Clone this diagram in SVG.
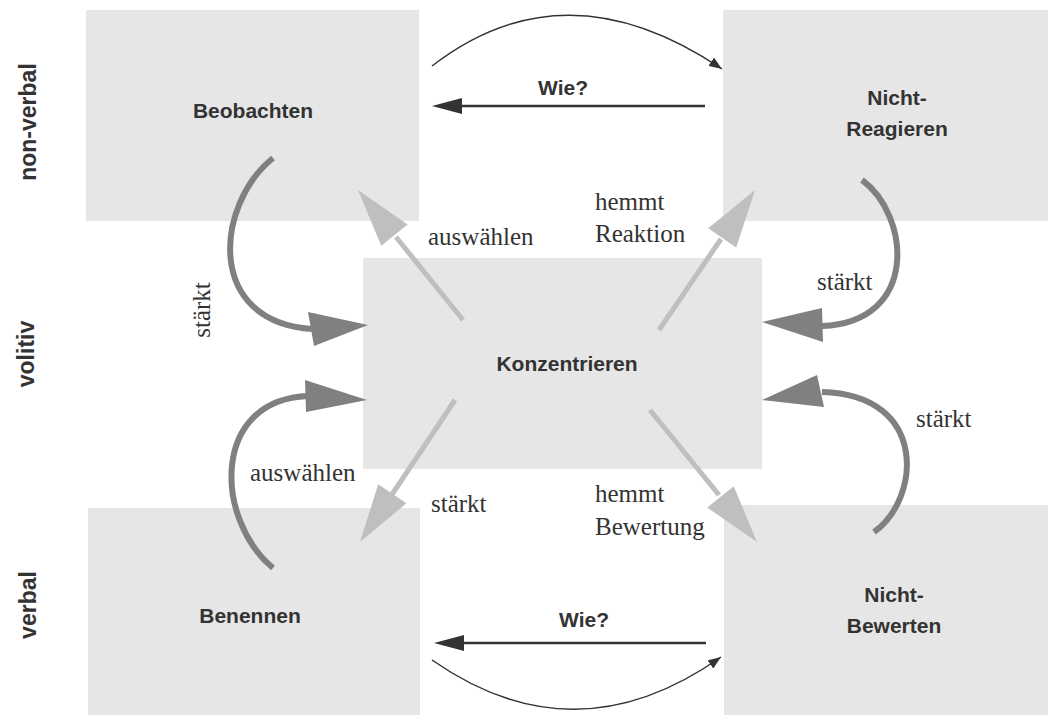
<svg xmlns="http://www.w3.org/2000/svg" width="1048" height="715" viewBox="0 0 1048 715">
  <style>
    .box { fill: #e6e6e6; }
    .lbl { font-family: "Liberation Sans", Arial, sans-serif; font-weight: bold; font-size: 21px; fill: #333; text-anchor: middle; }
    .side { font-family: "Liberation Sans", Arial, sans-serif; font-weight: bold; font-size: 23px; fill: #333; text-anchor: middle; }
    .ser { font-family: "Liberation Serif", "Times New Roman", serif; font-size: 25px; fill: #333; }
    .thin { fill: none; stroke: #333; stroke-width: 1.5; }
    .wie { fill: none; stroke: #333; stroke-width: 2.5; }
    .dark { fill: none; stroke: #808080; stroke-width: 6; }
    .darkh { fill: #808080; }
    .light { fill: none; stroke: #bfbfbf; stroke-width: 5; }
    .lighth { fill: #bfbfbf; }
    .head { fill: #333; }
  </style>
  <defs>
    <marker id="small" markerUnits="userSpaceOnUse" markerWidth="14" markerHeight="10" refX="13" refY="5" orient="auto">
      <path d="M0,0 L13,5 L0,10 Z" fill="#333"/>
    </marker>
  </defs>
  <rect width="1048" height="715" fill="#ffffff"/>

  <g id="side-labels">
    <text class="side" transform="translate(36,122) rotate(-90)">non-verbal</text>
    <text class="side" transform="translate(34,354) rotate(-90)">volitiv</text>
    <text class="side" transform="translate(36,605) rotate(-90)">verbal</text>
  </g>

  <g id="beobachten">
    <rect class="box" x="86" y="10" width="333" height="211"/>
    <text class="lbl" x="253" y="118">Beobachten</text>
  </g>
  <g id="nicht-reagieren">
    <rect class="box" x="723" y="10" width="325" height="211"/>
    <text class="lbl" x="897" y="105">Nicht-</text>
    <text class="lbl" x="897" y="136">Reagieren</text>
  </g>
  <g id="konzentrieren">
    <rect class="box" x="363" y="258" width="399" height="211"/>
    <text class="lbl" x="567" y="371">Konzentrieren</text>
  </g>
  <g id="benennen">
    <rect class="box" x="88" y="508" width="332" height="207"/>
    <text class="lbl" x="250" y="623">Benennen</text>
  </g>
  <g id="nicht-bewerten">
    <rect class="box" x="724" y="505" width="324" height="210"/>
    <text class="lbl" x="894" y="602">Nicht-</text>
    <text class="lbl" x="894" y="633">Bewerten</text>
  </g>

  <g id="connectors">
    <!-- top Wie? -->
    <path class="thin" d="M432,66 Q565,-37 722,69" marker-end="url(#small)"/>
    <line class="wie" x1="705" y1="106" x2="455" y2="106"/>
    <polygon class="head" points="432,106 462,98 462,114"/>
    <text class="lbl" x="563" y="95">Wie?</text>

    <!-- bottom Wie? -->
    <path class="thin" d="M432,660 Q575,760 721,657" marker-end="url(#small)"/>
    <line class="wie" x1="706" y1="643" x2="457" y2="643"/>
    <polygon class="head" points="434,643 464,635 464,651"/>
    <text class="lbl" x="584" y="627">Wie?</text>

    <!-- dark curved arrows -->
    <path class="dark" d="M273,158 C215,205 205,322 312,329"/>
    <polygon class="darkh" points="368,325 308,312 314,346"/>
    <text class="ser" transform="translate(210,310) rotate(-90)" text-anchor="middle">stärkt</text>

    <path class="dark" d="M862,180 C910,215 920,322 822,326"/>
    <polygon class="darkh" points="762,322 822,308 823,342"/>
    <text class="ser" x="817" y="290">stärkt</text>

    <path class="dark" d="M273,568 C215,520 210,400 308,396"/>
    <polygon class="darkh" points="367,400 305,380 306,412"/>
    <text class="ser" x="250" y="481">auswählen</text>

    <path class="dark" d="M874,532 C920,500 930,395 822,392"/>
    <polygon class="darkh" points="762,400 817,375 824,407"/>
    <text class="ser" x="916" y="427">stärkt</text>

    <!-- light straight arrows -->
    <line class="light" x1="463" y1="320" x2="396" y2="237"/>
    <polygon class="lighth" points="358,190 407.6,224.4 381.2,245.8"/>
    <text class="ser" x="428" y="245">auswählen</text>

    <line class="light" x1="659" y1="330" x2="721" y2="239"/>
    <polygon class="lighth" points="755,190 736.2,247.4 708.2,228.2"/>
    <text class="ser" x="595" y="210">hemmt</text>
    <text class="ser" x="595" y="242">Reaktion</text>

    <line class="light" x1="455" y1="400" x2="391" y2="496"/>
    <polygon class="lighth" points="360,542 378.2,484.3 406.4,503.3"/>
    <text class="ser" x="431" y="512">stärkt</text>

    <line class="light" x1="650" y1="410" x2="719" y2="495"/>
    <polygon class="lighth" points="757,542 707.3,507.6 733.7,486.2"/>
    <text class="ser" x="595" y="502">hemmt</text>
    <text class="ser" x="595" y="535">Bewertung</text>
  </g>
</svg>
